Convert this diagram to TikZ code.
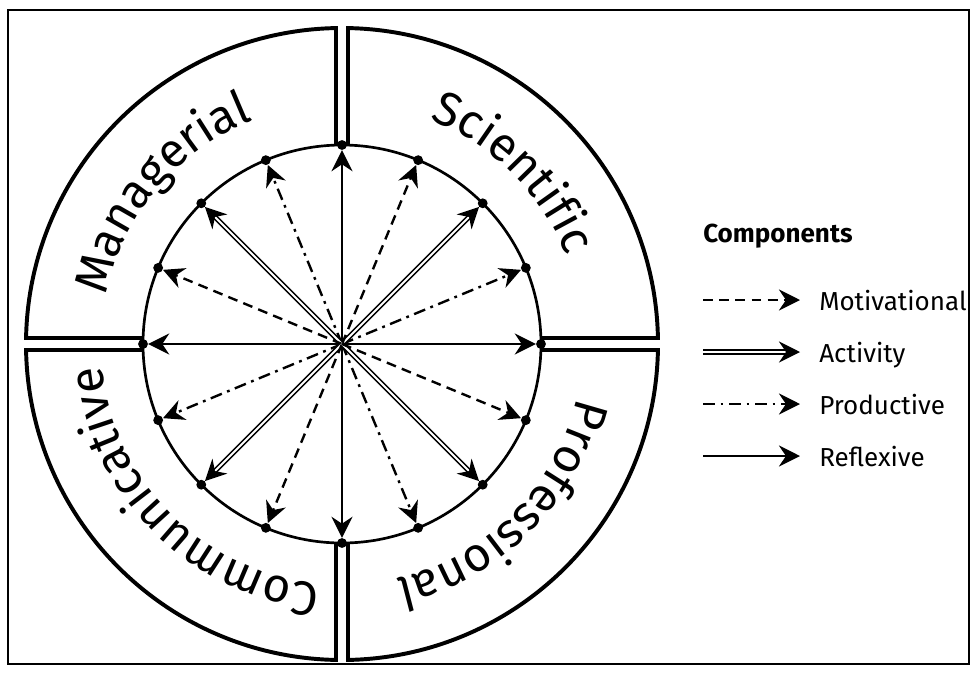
\documentclass[tikz,border=0pt]{standalone}
\usepackage{fontspec}
\setmainfont{Fira Sans}
\usepackage{tikz}
\usetikzlibrary{positioning, arrows.meta, decorations.text}

\newcommand{\arcfont}{\fontsize{34}{34}\selectfont}
\newcommand{\legfont}{\fontsize{18.5}{18.5}\selectfont}

\tikzset{
    frame/.style={line width=1.2pt},
    quad/.style={line width=2.8pt},
    ring/.style={line width=1.9pt, fill=white},
    dot/.style={circle, fill=black, inner sep=0pt, minimum size=7pt},
    tip/.style={-{Stealth[length=15pt, width=15pt, inset=5pt]}},
    reflexive/.style={tip, line width=1.7pt},
    productive/.style={tip, line width=1.7pt, dash pattern=on 8.5pt off 4pt on 2pt off 4pt},
    activity/.style={tip, line width=1.1pt, double, double distance=1.4pt},
    motivational/.style={tip, line width=1.7pt, dash pattern=on 7pt off 4.5pt},
    legtext/.style={font=\legfont, inner sep=0pt, text depth=0pt, anchor=west},
}

\begin{document}
\begin{tikzpicture}[x=0.025cm, y=0.025cm]
    \useasboundingbox (-342,-329) rectangle (635,344);
    \draw[frame] (-334,334) rectangle (627,-320);

    % --- four quadrants ---
    \foreach \q in {0,90,180,270} {
        \draw[quad, rotate=\q] (6,6) -- (1.09:316) arc[start angle=1.09, end angle=88.91, radius=316] -- cycle;
    }

    % --- quadrant labels along the ring ---
    \path[decorate, decoration={text along path, text align=center, text={|\arcfont|Managerial}}]
        (190:241) arc[start angle=190, end angle=90, radius=241];
    \path[decorate, decoration={text along path, text align=center, text={|\arcfont|Scientific}}]
        (90:241) arc[start angle=90, end angle=0, radius=241];
    \path[decorate, decoration={text along path, text align=center, text={|\arcfont|Professional}}]
        (0:241) arc[start angle=0, end angle=-90, radius=241];
    \path[decorate, decoration={text along path, text align=center, text={|\arcfont|Communicative}}]
        (270:241) arc[start angle=270, end angle=180, radius=241];

    % --- inner circle and components ---
    \draw[ring] (0,0) circle (199);
    \coordinate (ctr) at (0,0);
    \foreach \q in {0,90,180,270} {
        \foreach \o/\s in {0/reflexive, 1/productive, 2/activity, 3/motivational} {
            \node[dot] (p\q-\o) at ({\q+22.5*\o}:199) {};
            \draw[\s] (ctr) -- (p\q-\o);
        }
    }

    % --- legend ---
    \node[font=\legfont\bfseries, inner sep=0pt, anchor=base west] (title) at (361,102) {Components};
    \foreach \y/\s/\t [count=\n] in {44/motivational/Motivational, -8/activity/Activity, -60/productive/Productive, -112/reflexive/Reflexive} {
        \coordinate (a\n) at (361,\y);
        \coordinate (b\n) at (458,\y);
        \node[legtext, right=13.5pt of b\n] (l\n) {\t};
        \draw[\s] (a\n) -- (b\n);
    }
\end{tikzpicture}
\end{document}
